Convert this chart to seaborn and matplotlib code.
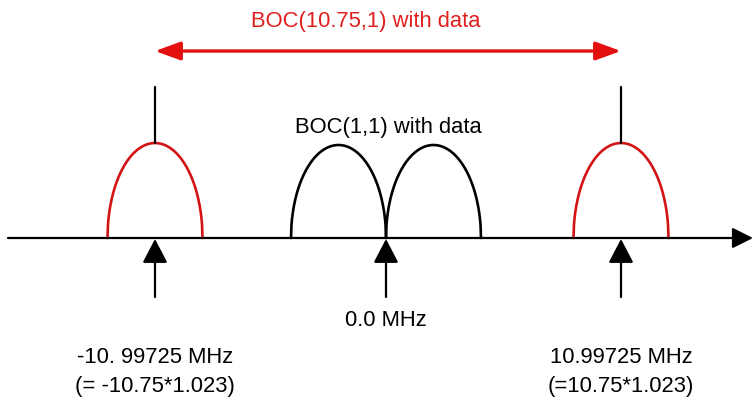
import numpy as np
import pandas as pd
import matplotlib
matplotlib.use("Agg")
import matplotlib.pyplot as plt
import seaborn as sns

# ---- data (diagram units: x across, y up; 753 x 402 canvas) ----
lobe_names = ["BOC(10.75,1) lower", "BOC(1,1) lower", "BOC(1,1) upper", "BOC(10.75,1) upper"]
lobe_signal = ["BOC(10.75,1)", "BOC(1,1)", "BOC(1,1)", "BOC(10.75,1)"]
lobe_centers = [155.0, 338.5, 433.5, 621.0]
lobe_half_widths = [47.5, 47.5, 47.5, 47.5]
lobe_heights = [95.0, 93.0, 93.0, 95.0]
baseline = 163.0

arrow_x = [155.0, 386.0, 621.0]
freq_labels = ["-10. 99725 MHz", "0.0 MHz", "10.99725 MHz"]
formula_labels = ["(= -10.75*1.023)", "", "(=10.75*1.023)"]
title_red = "BOC(10.75,1) with data"
title_black = "BOC(1,1) with data"

RED_TXT = "#e0201e"
RED_LINE = "#d41414"
RED_ARROW = "#e31010"

sns.set_theme(style="white")
plt.rcParams["font.family"] = ["Liberation Sans", "DejaVu Sans"]

# build lobe curves (half-ellipse arches)
rows = []
u = np.linspace(-1, 1, 201)
for name, sig, c, hw, h in zip(lobe_names, lobe_signal, lobe_centers, lobe_half_widths, lobe_heights):
    for uu in u:
        rows.append({"lobe": name, "signal": sig, "x": c + hw * uu,
                     "y": baseline + h * np.sqrt(max(0.0, 1 - uu ** 2))})
df = pd.DataFrame(rows)

fig = plt.figure(figsize=(7.53, 4.02), dpi=100)
ax = fig.add_axes([0, 0, 1, 1])

sns.lineplot(data=df, x="x", y="y", units="lobe", estimator=None, sort=False,
             hue="signal", palette={"BOC(10.75,1)": RED_LINE, "BOC(1,1)": "black"},
             linewidth=1.9, legend=False, ax=ax)

# horizontal frequency axis with arrow
ax.annotate("", xy=(753, baseline), xytext=(8, baseline),
            arrowprops=dict(arrowstyle="-|>,head_length=0.9,head_width=0.45",
                            mutation_scale=14, lw=1.6, color="black",
                            shrinkA=0, shrinkB=0), annotation_clip=False)

# vertical markers above the red lobes
for i, (c, h, sig) in enumerate(zip(lobe_centers, lobe_heights, lobe_signal)):
    if sig == "BOC(10.75,1)":
        ax.plot([c, c], [baseline + h, 314], color="black", lw=1.6)

# red double-headed arrow
ax.annotate("", xy=(arrow_x[0], 350), xytext=(arrow_x[2], 350),
            arrowprops=dict(arrowstyle="<|-|>,head_length=1.1,head_width=0.4",
                            mutation_scale=14, lw=2.4, color=RED_ARROW,
                            shrinkA=0, shrinkB=0))

# up arrows under the axis
for x in arrow_x:
    ax.annotate("", xy=(x, baseline - 1), xytext=(x, 104),
                arrowprops=dict(arrowstyle="-|>,head_length=1.05,head_width=0.55",
                                mutation_scale=14, lw=1.6, color="black",
                                shrinkA=0, shrinkB=0))

# texts
ax.text(365.5, 381, title_red, color=RED_TXT, fontsize=15.8, ha="center", va="center")
ax.text(388, 275, title_black, color="black", fontsize=15.8, ha="center", va="center")
for x, fl, fm in zip(arrow_x, freq_labels, formula_labels):
    if fm == "":
        ax.text(x, 81, fl, color="black", fontsize=15.8, ha="center", va="center")
    else:
        ax.text(x, 44, fl, color="black", fontsize=15.8, ha="center", va="center")
        ax.text(x, 15, fm, color="black", fontsize=15.8, ha="center", va="center")

ax.set_xlim(0, 753)
ax.set_ylim(0, 402)
ax.set_axis_off()
fig.savefig("out.png", dpi=100, facecolor="white")
